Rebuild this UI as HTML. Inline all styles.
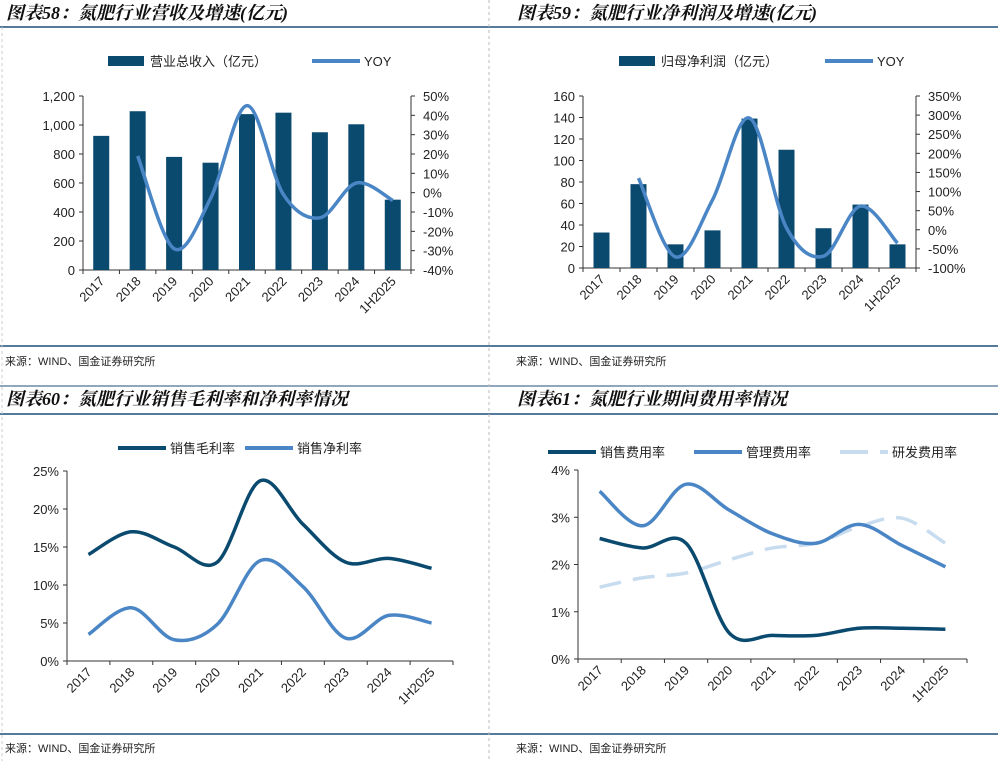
<!DOCTYPE html>
<html><head><meta charset="utf-8">
<style>
body{margin:0;width:998px;height:761px;background:#fff;overflow:hidden;font-family:"Liberation Sans","Noto Sans CJK SC",sans-serif;}
svg{position:absolute;left:0;top:0}
</style></head>
<body>
<svg id="s" width="998" height="761" xmlns="http://www.w3.org/2000/svg" font-family="Liberation Sans, Noto Sans CJK SC, sans-serif">
<g>
<line x1="0" y1="27" x2="998" y2="27" stroke="#1f4e79" stroke-width="1.5"/>
<line x1="0" y1="346" x2="998" y2="346" stroke="#1f4e79" stroke-width="1.5"/>
<line x1="0" y1="414" x2="998" y2="414" stroke="#1f4e79" stroke-width="1.5"/>
<line x1="0" y1="734" x2="998" y2="734" stroke="#1f4e79" stroke-width="1.5"/>
<line x1="0" y1="386" x2="998" y2="386" stroke="#1f4e79" stroke-width="1"/>
<line x1="489" y1="0" x2="489" y2="761" stroke="#bbb" stroke-dasharray="3,3"/>
<line x1="2" y1="27" x2="2" y2="761" stroke="#ccc" stroke-dasharray="3,3"/>
</g>
<g font-style="italic" font-weight="bold" font-size="18" fill="#111" font-family="Liberation Serif, Noto Serif CJK SC, serif">
<text x="6" y="19">图表58：氮肥行业营收及增速(亿元)</text>
<text x="517" y="19">图表59：氮肥行业净利润及增速(亿元)</text>
<text x="6" y="405">图表60：氮肥行业销售毛利率和净利率情况</text>
<text x="517" y="405">图表61：氮肥行业期间费用率情况</text>
</g>
<g font-size="11" fill="#222">
<text x="5" y="365">来源：WIND、国金证券研究所</text>
<text x="516" y="365">来源：WIND、国金证券研究所</text>
<text x="5" y="752">来源：WIND、国金证券研究所</text>
<text x="516" y="752">来源：WIND、国金证券研究所</text>
</g>
<g id="charts"></g>
</svg>
<script>
const cats=["2017","2018","2019","2020","2021","2022","2023","2024","1H2025"];
const revenue=[925,1095,780,740,1075,1085,950,1005,485];
const revenueYoy=[null,19,-29,-3,45,-1,-13,5,-4];
const profit=[33,78,22,35,139,110,37,59,22];
const profitYoy=[null,135,-71,78,292,5,-69,62,-35];
const grossMargin=[14,17,15,13,23.7,18,13,13.5,12.2];
const netMargin=[3.5,7,2.8,4.8,13.2,9.8,3,6,5];
const sellRate=[2.55,2.35,2.45,0.55,0.5,0.5,0.65,0.65,0.63];
const mgmtRate=[3.55,2.82,3.7,3.15,2.65,2.45,2.85,2.4,1.95];
const rdRate=[1.52,1.72,1.82,2.1,2.35,2.45,2.8,2.98,2.45];
const leftTicks58=["0","200","400","600","800","1,000","1,200"];
const rightTicks58=["-40%","-30%","-20%","-10%","0%","10%","20%","30%","40%","50%"];
const leftTicks59=["0","20","40","60","80","100","120","140","160"];
const rightTicks59=["-100%","-50%","0%","50%","100%","150%","200%","250%","300%","350%"];
const ticks60=["0%","5%","10%","15%","20%","25%"];
const ticks61=["0%","1%","2%","3%","4%"];
const DARK="#0b4a6f",MID="#4a86c5",LIGHT="#c8dcef";
const NS="http://www.w3.org/2000/svg";
const root=document.getElementById('charts');
function mk(tag,attrs,parent,text){const e=document.createElementNS(NS,tag);for(const k in attrs)e.setAttribute(k,attrs[k]);if(text!==undefined)e.textContent=text;(parent||root).appendChild(e);return e;}
function smooth(pts){let d="M"+pts[0][0]+","+pts[0][1];for(let i=0;i<pts.length-1;i++){const p0=pts[i-1]||pts[i],p1=pts[i],p2=pts[i+1],p3=pts[i+2]||p2;const c1=[p1[0]+(p2[0]-p0[0])/6,p1[1]+(p2[1]-p0[1])/6],c2=[p2[0]-(p3[0]-p1[0])/6,p2[1]-(p3[1]-p1[1])/6];d+=" C"+c1[0]+","+c1[1]+" "+c2[0]+","+c2[1]+" "+p2[0]+","+p2[1];}return d;}
function chart(o){
 const g=mk('g',{});
 
 
 const band=(o.x1-o.x0)/cats.length;
 const xc=i=>o.x0+band*(i+0.5);
 const yL=v=>o.yb-(v-o.lmin)/(o.lmax-o.lmin)*(o.yb-o.yt);
 const yR=v=>o.yb-(v-o.rmin)/(o.rmax-o.rmin)*(o.yb-o.yt);
 const ax=mk('path',{d:`M${o.x0},${o.yt} V${o.yb} H${o.x1}`+(o.right?` M${o.x1},${o.yt} V${o.yb}`:''),stroke:"#333",fill:"none","stroke-width":1},g);
 
 
 o.lticks.forEach((t,i)=>{const y=o.yb-i*(o.yb-o.yt)/(o.lticks.length-1);mk('line',{x1:o.x0-4,x2:o.x0,y1:y,y2:y,stroke:"#333"},g);const tx=mk('text',{x:o.x0-8,y:y+5,"text-anchor":"end","font-size":13,fill:"#222"},g,t);});
 if(o.right)o.rticks.forEach((t,i)=>{const y=o.yb-i*(o.yb-o.yt)/(o.rticks.length-1);mk('line',{x1:o.x1,x2:o.x1+4,y1:y,y2:y,stroke:"#333"},g);const tx=mk('text',{x:o.x1+12,y:y+5,"font-size":13,fill:"#222"},g,t);});
 for(let i=0;i<=cats.length;i++){const x=o.x0+i*band;mk('line',{x1:x,x2:x,y1:o.yb,y2:o.yb+4,stroke:"#333"},g);}
 cats.forEach((c,i)=>{const x=xc(i)+4,y=o.yb+12;const tx=mk('text',{x:x,y:y,"text-anchor":"end","font-size":13,fill:"#222",transform:`rotate(-45 ${x} ${y})`},g,c);});
 if(o.bars){o.bars.forEach((v,i)=>{const y=yL(v);const r=mk('rect',{x:xc(i)-8,y:y,width:16,height:o.yb-y,fill:DARK},g);});}
 o.lines.forEach(L=>{const pts=[];L.data.forEach((v,i)=>{if(v!==null)pts.push([xc(i),(L.right?yR:yL)(v)]);});const p=mk('path',{d:smooth(pts),fill:"none",stroke:L.color,"stroke-width":3.5,"stroke-dasharray":L.dash||"none"},g);});
 o.legend.forEach(l=>{let m;if(l.bar)m=mk('rect',{x:l.x,y:l.y-5,width:36,height:10,fill:DARK},g);else m=mk('line',{x1:l.x,x2:l.x+48,y1:l.y,y2:l.y,stroke:l.color,"stroke-width":4,"stroke-dasharray":l.dash||"none"},g);const t=mk('text',{x:l.x+(l.bar?42:52),y:l.y+5,"font-size":13,fill:"#222"},g,l.text);});
}
chart({name:'chart-58',x0:83,x1:411,yt:96,yb:270,lmin:0,lmax:1200,rmin:-40,rmax:50,right:true,lticks:leftTicks58,rticks:rightTicks58,bars:revenue,
 lines:[{data:revenueYoy,right:true,color:MID,name:'yoy-line'}],
 legend:[{bar:true,x:108,y:61,text:'营业总收入（亿元）'},{x:312,y:61,color:MID,text:'YOY'}]});
chart({name:'chart-59',x0:583,x1:916,yt:96,yb:268,lmin:0,lmax:160,rmin:-100,rmax:350,right:true,lticks:leftTicks59,rticks:rightTicks59,bars:profit,
 lines:[{data:profitYoy,right:true,color:MID,name:'yoy-line'}],
 legend:[{bar:true,x:619,y:61,text:'归母净利润（亿元）'},{x:825,y:61,color:MID,text:'YOY'}]});
chart({name:'chart-60',x0:67,x1:453,yt:471,yb:661,lmin:0,lmax:25,right:false,lticks:ticks60,
 lines:[{data:grossMargin,color:DARK,name:'gross-margin-line'},{data:netMargin,color:MID,name:'net-margin-line'}],
 legend:[{x:118,y:448,color:DARK,text:'销售毛利率'},{x:245,y:448,color:MID,text:'销售净利率'}]});
chart({name:'chart-61',x0:578,x1:967,yt:470,yb:659,lmin:0,lmax:4,right:false,lticks:ticks61,
 lines:[{data:rdRate,color:LIGHT,dash:"22,12",name:'rd-rate-line'},{data:sellRate,color:DARK,name:'sales-rate-line'},{data:mgmtRate,color:MID,name:'mgmt-rate-line'}],
 legend:[{x:548,y:452,color:DARK,text:'销售费用率'},{x:694,y:452,color:MID,text:'管理费用率'},{x:840,y:452,color:LIGHT,dash:"28,12",text:'研发费用率'}]});
</script>
</body></html>
